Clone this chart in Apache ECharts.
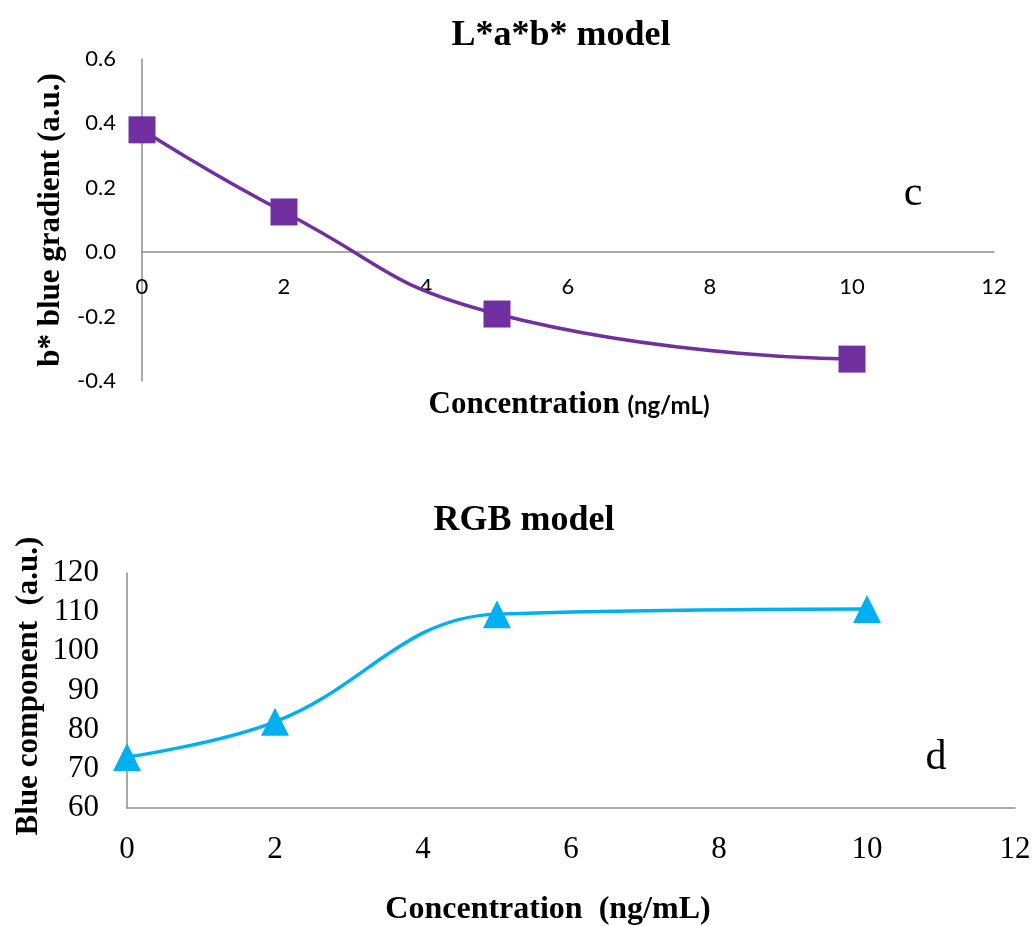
<!DOCTYPE html>
<html>
<head>
<meta charset="utf-8">
<script src="https://cdn.jsdelivr.net/npm/echarts@6/dist/echarts.min.js"></script>
<style>
  html, body { margin: 0; padding: 0; background: #fff; }
  #chart { width: 1036px; height: 926px; }
</style>
</head>
<body>
<div id="chart"></div>
<script>
// Concentration values (ng/mL)
const concentration = [0, 2, 5, 10];
// b* blue gradient in the L*a*b* colour model
const labBlue = [0.38, 0.125, -0.192, -0.332];
// Blue component in the RGB colour model
const rgbBlue = [73, 82, 109.5, 110.8];

const labTicks = { min: -0.4, max: 0.6, interval: 0.2 };
const rgbTicks = { min: 60, max: 120, interval: 10 };
const xTicks = { min: 0, max: 12, interval: 2 };

const serif = '"Liberation Serif", "DejaVu Serif", serif';
const sans = 'Lato, "Open Sans", "Liberation Sans", sans-serif';
const gray = '#8c8c8c';

const pairs = (xs, ys) => xs.map((x, i) => [x, ys[i]]);

// Top panel: height of the plot area and where zero sits inside it
const labGridTop = 59, labGridHeight = 322;
const zeroShift = labGridHeight * (0 - labTicks.min) / (labTicks.max - labTicks.min);

const chart = echarts.init(document.getElementById('chart'));
chart.setOption({
  animation: false,
  backgroundColor: '#fff',
  title: [
    { text: 'L*a*b* model', left: 556, top: 13, textAlign: 'center',
      textStyle: { fontFamily: serif, fontWeight: 'bold', fontSize: 36, color: '#000' } },
    { text: 'RGB model', left: 519, top: 498, textAlign: 'center',
      textStyle: { fontFamily: serif, fontWeight: 'bold', fontSize: 36, color: '#000' } }
  ],
  grid: [
    { left: 142, right: 42, top: labGridTop, height: labGridHeight },
    { left: 127, right: 21, top: 573, height: 235 }
  ],
  xAxis: [
    { type: 'value', gridIndex: 0, min: xTicks.min, max: xTicks.max, interval: xTicks.interval,
      // the axis crosses the value axis at zero
      offset: -zeroShift,
      axisLine: { onZero: false, lineStyle: { color: gray, width: 1.5 } },
      axisTick: { show: false }, splitLine: { show: false },
      axisLabel: { margin: 24, fontFamily: sans, fontSize: 22, color: '#000' } },
    { type: 'value', gridIndex: 1, min: xTicks.min, max: xTicks.max, interval: xTicks.interval,
      axisLine: { lineStyle: { color: gray, width: 1.5 } },
      axisTick: { show: false }, splitLine: { show: false },
      axisLabel: { margin: 26, fontFamily: serif, fontSize: 31, color: '#000' } }
  ],
  yAxis: [
    { type: 'value', gridIndex: 0, min: labTicks.min, max: labTicks.max, interval: labTicks.interval,
      axisLine: { show: true, onZero: false, lineStyle: { color: gray, width: 1.5 } },
      axisTick: { show: false }, splitLine: { show: false },
      axisLabel: { margin: 26, fontFamily: sans, fontSize: 22, color: '#000',
        formatter: v => (Math.abs(v) < 1e-9 ? 0 : v).toFixed(1) } },
    { type: 'value', gridIndex: 1, min: rgbTicks.min, max: rgbTicks.max, interval: rgbTicks.interval,
      axisLine: { show: true, lineStyle: { color: gray, width: 1.5 } },
      axisTick: { show: false }, splitLine: { show: false },
      axisLabel: { margin: 28, fontFamily: serif, fontSize: 31, color: '#000' } }
  ],
  series: [
    { type: 'line', xAxisIndex: 0, yAxisIndex: 0, data: pairs(concentration, labBlue),
      smooth: 0.5, symbol: 'rect', symbolSize: 27,
      lineStyle: { color: '#7030A0', width: 3.5 },
      itemStyle: { color: '#7030A0' } },
    { type: 'line', xAxisIndex: 1, yAxisIndex: 1, data: pairs(concentration, rgbBlue),
      smooth: 0.4, symbol: 'triangle', symbolSize: 28,
      lineStyle: { color: '#00B0F0', width: 3.5 },
      itemStyle: { color: '#00B0F0' } }
  ],
  graphic: [
    { type: 'text', x: 51, y: 220, rotation: Math.PI / 2,
      style: { text: 'b* blue gradient (a.u.)', font: 'bold 31px ' + serif, fill: '#000',
        textAlign: 'center', textVerticalAlign: 'middle' } },
    { type: 'text', x: 569, y: 405,
      style: {
        text: '{a|Concentration }{b|(ng/mL)}',
        rich: {
          a: { fontFamily: serif, fontWeight: 'bold', fontSize: 31, fill: '#000', verticalAlign: 'bottom' },
          b: { fontFamily: sans, fontWeight: 'bold', fontSize: 24, fill: '#000', verticalAlign: 'bottom', padding: [0, 0, 2, 0] }
        },
        textAlign: 'center', textVerticalAlign: 'middle' } },
    { type: 'text', x: 913, y: 194,
      style: { text: 'c', font: '42px ' + serif, fill: '#000', textAlign: 'center', textVerticalAlign: 'middle' } },
    { type: 'text', x: 29, y: 686, rotation: Math.PI / 2,
      style: { text: 'Blue component  (a.u.)', font: 'bold 31px ' + serif, fill: '#000',
        textAlign: 'center', textVerticalAlign: 'middle' } },
    { type: 'text', x: 548, y: 910,
      style: { text: 'Concentration  (ng/mL)', font: 'bold 32px ' + serif, fill: '#000',
        textAlign: 'center', textVerticalAlign: 'middle' } },
    { type: 'text', x: 936, y: 758,
      style: { text: 'd', font: '42px ' + serif, fill: '#000', textAlign: 'center', textVerticalAlign: 'middle' } }
  ]
});
</script>
</body>
</html>
